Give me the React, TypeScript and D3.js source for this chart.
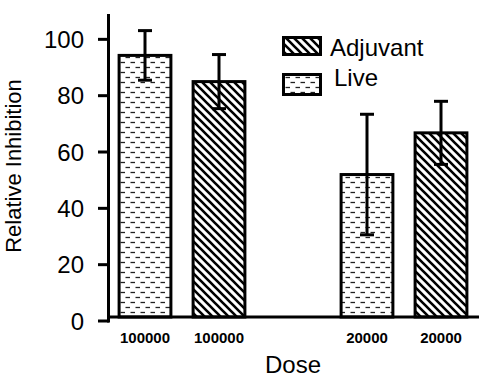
import React from 'react';
import * as d3 from 'd3';

// bar slots along the dose axis (the middle one is an empty gap)
const slots = ['live-100000', 'adj-100000', 'gap', 'live-20000', 'adj-20000'];
const doseLabels = ['100000', '100000', '', '20000', '20000'];
const groups = ['Live', 'Adjuvant', '', 'Live', 'Adjuvant'];
const means = [94.3, 85.0, null, 52.0, 66.8];
const errors = [8.8, 9.6, null, 21.4, 11.2];
const yTicks = [0, 20, 40, 60, 80, 100];
const legendItems = ['Adjuvant', 'Live'];

const W = 500;
const H = 386;
const FONT = 'Liberation Sans, Arial, sans-serif';

const App = () => {
  const x = d3.scaleBand<string>()
    .domain(slots)
    .range([108, 478])
    .paddingInner(0.3)
    .paddingOuter(0.15);

  const y = d3.scaleLinear()
    .domain([0, 109])
    .range([321, 14]);

  const base = y(0) - 4; // bars sit on the x axis line, a bit above the 0 tick
  const fillFor = (g: string) => (g === 'Live' ? 'url(#dashes)' : 'url(#hatch)');

  return (
    <svg width={W} height={H} style={{ position: 'absolute', left: 0, top: 0, background: '#fff' }}>
      <defs>
        <pattern id="dashes" patternUnits="userSpaceOnUse" width={10} height={10}>
          <rect width={10} height={10} fill="#fff" />
          <line x1={0.5} x2={5} y1={2.5} y2={2.5} stroke="#222" strokeWidth={1.3} />
          <line x1={5.5} x2={10} y1={7.5} y2={7.5} stroke="#222" strokeWidth={1.3} />
        </pattern>
        <pattern id="hatch" patternUnits="userSpaceOnUse" width={8} height={8}>
          <rect width={8} height={8} fill="#fff" />
          <path d="M-2,-2 L10,10 M-2,6 L2,10 M6,-2 L10,2" stroke="#000" strokeWidth={2.6} />
        </pattern>
      </defs>

      {/* bars */}
      {slots.map((s, i) => {
        const m = means[i];
        if (m == null) return null;
        const x0 = x(s)!;
        return (
          <rect key={s} x={x0} y={y(m)} width={x.bandwidth()} height={base - y(m)}
            fill={fillFor(groups[i])} stroke="#000" strokeWidth={3} />
        );
      })}

      {/* error bars */}
      {slots.map((s, i) => {
        const m = means[i];
        const e = errors[i];
        if (m == null || e == null) return null;
        const cx = x(s)! + x.bandwidth() / 2;
        return (
          <g key={'err' + s} stroke="#000" strokeWidth={3}>
            <line x1={cx} x2={cx} y1={y(m + e)} y2={y(m - e)} />
            <line x1={cx - 7} x2={cx + 7} y1={y(m + e)} y2={y(m + e)} />
            <line x1={cx - 7} x2={cx + 7} y1={y(m - e)} y2={y(m - e)} />
          </g>
        );
      })}

      {/* x axis */}
      <line x1={110} x2={479} y1={base} y2={base} stroke="#000" strokeWidth={3} />
      {slots.map((s, i) => (
        <text key={'xl' + s} x={x(s)! + x.bandwidth() / 2} y={343} textAnchor="middle"
          fontFamily={FONT} fontWeight="bold" fontSize={15}>{doseLabels[i]}</text>
      ))}
      <text x={293} y={373} textAnchor="middle" fontFamily={FONT} fontSize={24}>Dose</text>

      {/* y axis */}
      <line x1={108.5} x2={108.5} y1={y(109)} y2={y(0) + 1.5} stroke="#000" strokeWidth={3} />
      {yTicks.map(t => (
        <g key={'yt' + t}>
          <line x1={98} x2={109} y1={y(t)} y2={y(t)} stroke="#000" strokeWidth={3} />
          <text x={84} y={y(t)} dy="0.36em" textAnchor="end" fontFamily={FONT} fontSize={24}>{t}</text>
        </g>
      ))}
      <text transform={`translate(21,166) rotate(-90)`} textAnchor="middle"
        fontFamily={FONT} fontSize={22}>Relative Inhibition</text>

      {/* legend */}
      {legendItems.map((g, i) => (
        <g key={'lg' + g}>
          <rect x={283.5} y={i === 0 ? 37.5 : 74.5} width={37} height={i === 0 ? 17 : 20}
            fill={fillFor(g)} stroke="#000" strokeWidth={3} />
          <text x={i === 0 ? 330 : 334} y={i === 0 ? 56 : 86} fontFamily={FONT} fontSize={24}>{g}</text>
        </g>
      ))}
    </svg>
  );
};

export default App;
